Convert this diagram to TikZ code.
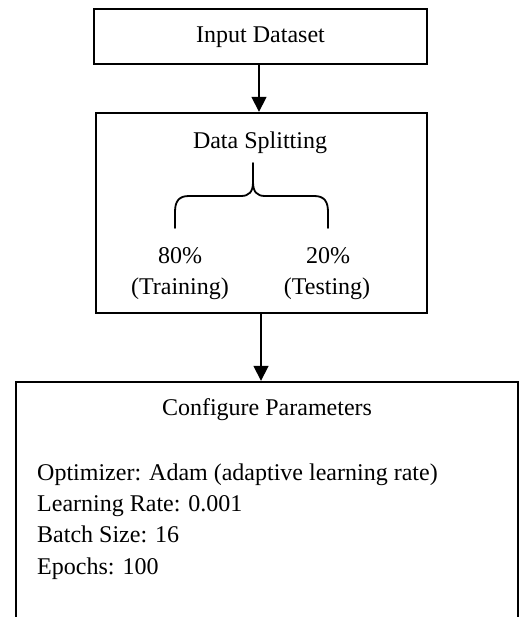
\documentclass[tikz,border=0pt]{standalone}
\usepackage{fontspec}
\setmainfont{Liberation Serif}
\usetikzlibrary{arrows.meta}
\begin{document}
\begin{tikzpicture}[x=1pt,y=-1pt,
  box/.style={draw,line width=2.4pt,rectangle,inner sep=0pt},
  lbl/.style={inner sep=0pt,font=\fontsize{24}{32}\selectfont},
  arr/.style={line width=1.7pt,-{Triangle[length=15pt,width=15pt]}},
  brace/.style={line width=1.8pt,line cap=round,line join=round}]
  \useasboundingbox (0,0) rectangle (520,617);
  \clip (0,0) rectangle (520,617);

  % boxes
  \node[box,minimum width=333pt,minimum height=55pt] (inp) at (260.5,36.5) {};
  \node[box,minimum width=331pt,minimum height=200pt] (split) at (261.5,213) {};
  \node[box,minimum width=502pt,minimum height=270pt] (conf) at (267,517) {};

  % labels
  \node[lbl,anchor=center] (tinp) at (260.5,37) {Input Dataset};
  \node[lbl,anchor=base] (tsplit) at (260,149) {Data Splitting};
  \node[lbl,anchor=base] (t80) at (180,263) {80\%};
  \node[lbl,anchor=base] (ttrain) at (180,294) {(Training)};
  \node[lbl,anchor=base] (t20) at (328,263) {20\%};
  \node[lbl,anchor=base] (ttest) at (327,294) {(Testing)};
  \node[lbl,anchor=base] (tconf) at (267,415) {Configure Parameters};
  \node[lbl,anchor=base west] (p1) at (37,480) {Optimizer: Adam (adaptive learning rate)};
  \node[lbl,anchor=base west] (p2) at (37,511) {Learning Rate: 0.001};
  \node[lbl,anchor=base west] (p3) at (37,542) {Batch Size: 16};
  \node[lbl,anchor=base west] (p4) at (37,574) {Epochs: 100};

  % curly brace splitting the data
  \draw[brace] (253,163) -- (253,182)
    .. controls (253,192) and (249,196) .. (241,196)
    -- (189,196)
    .. controls (179,196) and (175,201) .. (175,212)
    -- (175,228);
  \draw[brace] (253,182)
    .. controls (253,192) and (257,196) .. (265,196)
    -- (314,196)
    .. controls (324,196) and (328,201) .. (328,212)
    -- (328,228);

  % connectors
  \draw[arr] (inp.south -| 259,0) -- (split.north -| 259,0);
  \draw[arr] (split.south -| 261,0) -- (conf.north -| 261,0);
\end{tikzpicture}
\end{document}
